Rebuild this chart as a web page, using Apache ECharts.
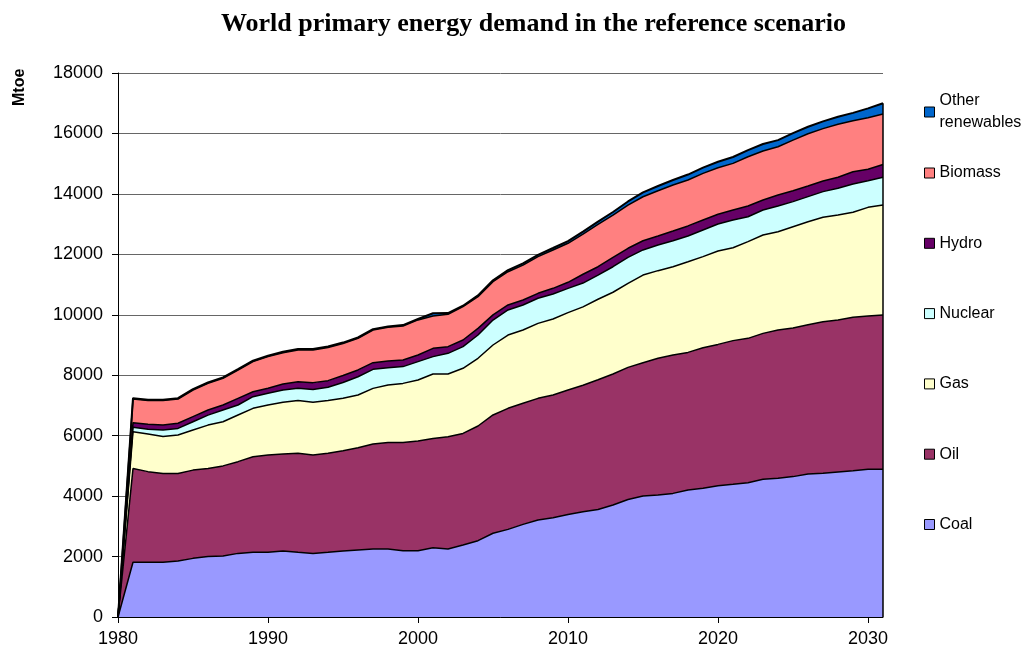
<!DOCTYPE html>
<html>
<head>
<meta charset="utf-8">
<script src="https://cdn.jsdelivr.net/npm/echarts@6/dist/echarts.min.js"></script>
<style>
  html, body { margin: 0; padding: 0; background: #fff; }
  #chart { width: 1027px; height: 656px; }
</style>
</head>
<body>
<div id="chart"></div>
<script>
// years 1980..2031
const years = [];
for (let y = 1980; y <= 2031; y++) years.push(String(y));

const yTicks = [0, 2000, 4000, 6000, 8000, 10000, 12000, 14000, 16000, 18000];

// Mtoe (1980 is plotted as zero)
const coal = [0,
  1810, 1810, 1810, 1850, 1940, 2000, 2020, 2105, 2140, 2140,
  2185, 2140, 2105, 2140, 2180, 2215, 2250, 2250, 2195, 2195,
  2295, 2250, 2380, 2525, 2770, 2900, 3065, 3210, 3285, 3395,
  3480, 3560, 3705, 3890, 4005, 4035, 4090, 4200, 4260, 4345,
  4390, 4445, 4555, 4590, 4645, 4730, 4755, 4800, 4840, 4885, 4885];
const oil = [0,
  3100, 3000, 2940, 2900, 2920, 2910, 2980, 3035, 3165, 3220,
  3210, 3275, 3255, 3275, 3320, 3385, 3475, 3520, 3575, 3630,
  3615, 3715, 3695, 3795, 3915, 4005, 4005, 4025, 4060, 4115,
  4190, 4290, 4335, 4370, 4410, 4525, 4580, 4555, 4650, 4675,
  4755, 4775, 4830, 4905, 4915, 4940, 5015, 5025, 5075, 5075, 5110];
const gas = [0,
  1220, 1245, 1220, 1270, 1330, 1440, 1460, 1545, 1600, 1655,
  1710, 1745, 1745, 1745, 1740, 1745, 1840, 1905, 1960, 2015,
  2130, 2075, 2155, 2240, 2315, 2425, 2425, 2480, 2515, 2560,
  2590, 2665, 2705, 2780, 2900, 2900, 2920, 3000, 3015, 3090,
  3075, 3200, 3255, 3255, 3355, 3410, 3455, 3475, 3475, 3595, 3635];
const nuclear = [0,
  150, 155, 220, 220, 270, 330, 390, 330, 385, 385,
  405, 405, 425, 440, 520, 605, 630, 575, 555, 610,
  575, 685, 715, 770, 825, 830, 830, 830, 830, 805,
  790, 795, 845, 860, 830, 850, 860, 850, 880, 895,
  915, 825, 825, 850, 830, 830, 850, 885, 935, 880, 920];
const hydro = [0,
  150, 165, 165, 170, 170, 170, 165, 220, 165, 170,
  200, 220, 225, 220, 230, 225, 220, 220, 220, 220,
  275, 220, 220, 220, 170, 165, 165, 165, 185, 200,
  290, 280, 310, 300, 305, 295, 320, 335, 330, 320,
  330, 355, 335, 365, 360, 350, 350, 365, 405, 380, 425];
const biomass = [0,
  780, 785, 805, 800, 880, 880, 885, 935, 995, 1045,
  1035, 1050, 1080, 1100, 1060, 1045, 1080, 1115, 1125, 1160,
  1070, 1070, 1105, 1050, 1100, 1100, 1155, 1215, 1270, 1290,
  1330, 1400, 1400, 1430, 1455, 1500, 1525, 1520, 1545, 1540,
  1545, 1630, 1620, 1595, 1675, 1730, 1735, 1755, 1690, 1705, 1665];
const otherRen = [0,
  30, 30, 30, 30, 30, 30, 30, 30, 30, 30,
  30, 30, 30, 30, 30, 30, 30, 30, 30, 30,
  90, 40, 30, 40, 45, 50, 55, 60, 65, 75,
  80, 90, 100, 120, 145, 155, 165, 180, 190, 200,
  210, 220, 230, 220, 230, 230, 240, 245, 260, 310, 360];

const seriesDefs = [
  { name: "Coal", data: coal, color: "#9999FF" },
  { name: "Oil", data: oil, color: "#993366" },
  { name: "Gas", data: gas, color: "#FFFFCC" },
  { name: "Nuclear", data: nuclear, color: "#CCFFFF" },
  { name: "Hydro", data: hydro, color: "#660066" },
  { name: "Biomass", data: biomass, color: "#FF8080" },
  { name: "Other renewables", data: otherRen, color: "#0066CC" },
];

const last = years.length - 1;
const endTotal = seriesDefs.reduce((s, d) => s + d.data[last], 0);

const chart = echarts.init(document.getElementById("chart"));

const series = seriesDefs.map((d, i) => ({
  name: d.name,
  type: "line",
  stack: "total",
  data: d.data,
  showSymbol: false,
  symbol: "none",
  silent: true,
  color: d.color,
  lineStyle: { color: "#000", width: i === seriesDefs.length - 1 ? 2 : 1.5 },
  areaStyle: { color: d.color, opacity: 1 },
  z: 3,
}));

// black right edge of the stacked areas
series[series.length - 1].markLine = {
  silent: true,
  symbol: "none",
  label: { show: false },
  lineStyle: { color: "#000", width: 1.5, type: "solid" },
  data: [[{ coord: [years[last], 0] }, { coord: [years[last], endTotal] }]],
};

const option = {
  animation: false,
  backgroundColor: "#fff",
  title: {
    text: "World primary energy demand in the reference scenario",
    left: 216,
    top: 6,
    textStyle: {
      fontFamily: "Liberation Serif",
      fontWeight: "bold",
      fontSize: 26,
      color: "#000",
    },
  },
  graphic: [
    {
      type: "text",
      x: 12,
      y: 106,
      rotation: Math.PI / 2,
      style: {
        text: "Mtoe",
        font: "bold 16px 'Liberation Sans'",
        fill: "#000",
      },
    },
  ],
  legend: [
    {
      orient: "vertical",
      left: 919,
      top: 85,
      data: ["Other renewables"],
      icon: "rect",
      itemWidth: 10,
      itemHeight: 10,
      itemStyle: { borderColor: "#000", borderWidth: 1 },
      formatter: () => "Other\nrenewables",
      textStyle: { fontFamily: "Liberation Sans", fontSize: 16, lineHeight: 22, color: "#000" },
      selectedMode: false,
    },
    {
      orient: "vertical",
      left: 919,
      top: 159,
      data: ["Biomass", "Hydro", "Nuclear", "Gas", "Oil", "Coal"],
      icon: "rect",
      itemWidth: 10,
      itemHeight: 10,
      itemGap: 52.3,
      itemStyle: { borderColor: "#000", borderWidth: 1 },
      textStyle: { fontFamily: "Liberation Sans", fontSize: 16, lineHeight: 18, color: "#000" },
      selectedMode: false,
    },
  ],
  grid: { left: 118, right: 144, top: 73, bottom: 39, containLabel: false },
  xAxis: {
    type: "category",
    data: years,
    boundaryGap: false,
    axisLine: { lineStyle: { color: "#000", width: 1 } },
    axisTick: { interval: 9, length: 6, lineStyle: { color: "#000" } },
    axisLabel: {
      interval: 9,
      margin: 13,
      fontFamily: "Liberation Sans",
      fontSize: 18,
      color: "#000",
    },
    splitLine: { show: false },
    z: 4,
  },
  yAxis: {
    type: "value",
    min: yTicks[0],
    max: yTicks[yTicks.length - 1],
    interval: 2000,
    axisLine: { show: true, lineStyle: { color: "#000", width: 1 } },
    axisTick: { show: true, length: 6, lineStyle: { color: "#000" } },
    axisLabel: {
      margin: 15,
      fontFamily: "Liberation Sans",
      fontSize: 18,
      color: "#000",
      formatter: (v) => String(v),
    },
    splitLine: { show: true, lineStyle: { color: "#666", width: 1 } },
    z: 1,
  },
  series: series,
};

chart.setOption(option);
</script>
</body>
</html>
